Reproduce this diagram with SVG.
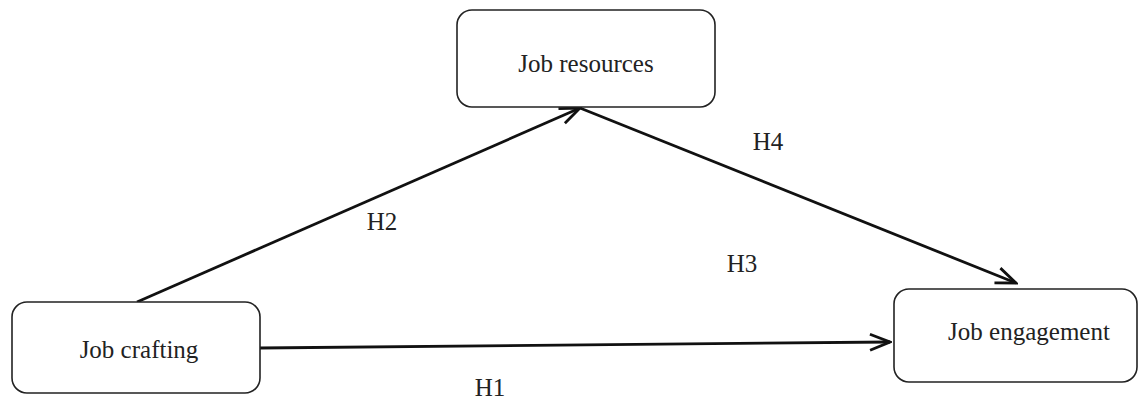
<svg xmlns="http://www.w3.org/2000/svg" width="1140" height="400" viewBox="0 0 1140 400">
<style>
.box{fill:#fff;stroke:#222;stroke-width:1.6}
.t{font-family:"Liberation Serif",serif;font-size:25px;fill:#222;text-anchor:middle}
.c{stroke:#111;stroke-width:2.8;fill:none}
</style>
<defs>
<marker id="ah" markerUnits="userSpaceOnUse" viewBox="0 0 24 20" markerWidth="24" markerHeight="20" refX="22" refY="10" orient="auto">
<path d="M2,2 L22,10 L2,18" fill="none" stroke="#111" stroke-width="2.8"/>
</marker>
</defs>
<rect width="1140" height="400" fill="#fff"/>
<g id="connectors">
<line class="c" x1="137" y1="302" x2="580" y2="108" marker-end="url(#ah)"/>
<line class="c" x1="580" y1="108" x2="1016" y2="283" marker-end="url(#ah)"/>
<line class="c" x1="260" y1="348" x2="890" y2="342" marker-end="url(#ah)"/>
<text class="t" x="382" y="230">H2</text>
<text class="t" x="768" y="150">H4</text>
<text class="t" x="742" y="272">H3</text>
<text class="t" x="490" y="396">H1</text>
</g>
<g id="job-resources">
<rect class="box" x="457" y="10" width="258" height="97" rx="15"/>
<text class="t" x="586" y="72">Job resources</text>
</g>
<g id="job-crafting">
<rect class="box" x="12" y="302" width="248" height="91" rx="15"/>
<text class="t" x="139" y="358">Job crafting</text>
</g>
<g id="job-engagement">
<rect class="box" x="894" y="289" width="243" height="93" rx="15"/>
<text class="t" x="1029" y="340">Job engagement</text>
</g>
</svg>
